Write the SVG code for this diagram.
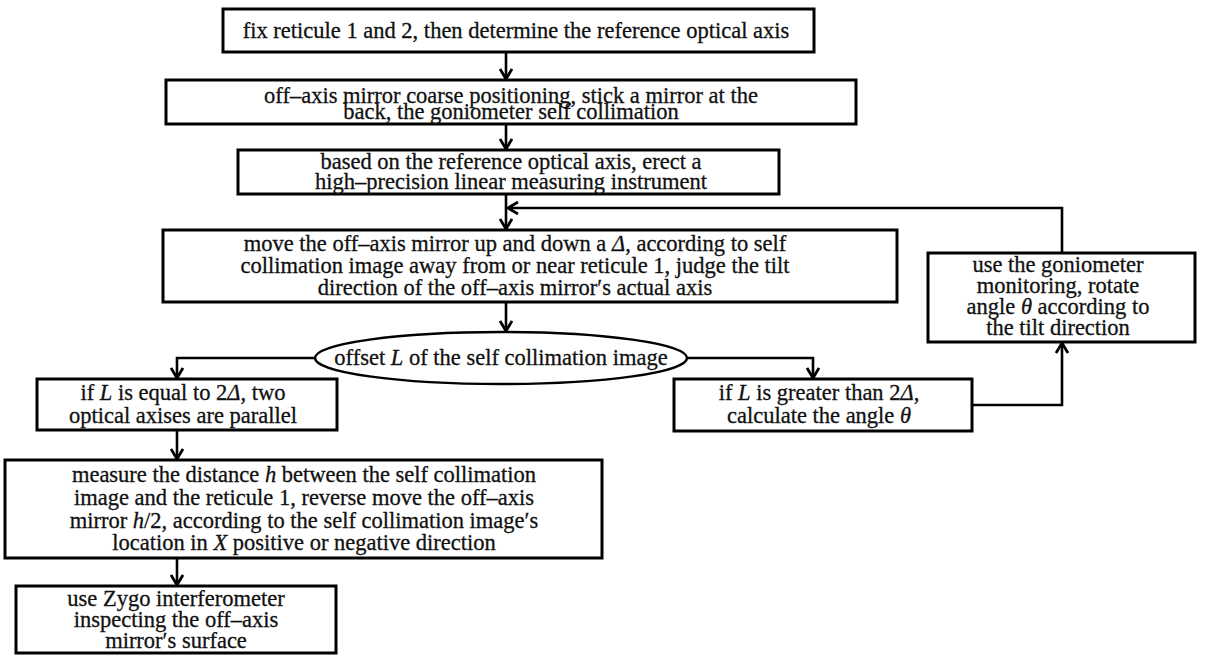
<svg xmlns="http://www.w3.org/2000/svg" width="1207" height="655" viewBox="0 0 1207 655">
<style>
.box{fill:#fff;stroke:#000;stroke-width:3}
.el{fill:#fff;stroke:#000;stroke-width:2.5}
.t{font-family:"Liberation Serif","Times New Roman",serif;font-size:22.5px;fill:#111;stroke:#111;stroke-width:0.3;text-anchor:middle}
.i{font-style:italic}
.c{fill:none;stroke:#000;stroke-width:2.6;marker-end:url(#ah)}
</style>
<defs>
<marker id="ah" viewBox="0 0 14 14" refX="12" refY="7" markerWidth="14" markerHeight="14" markerUnits="userSpaceOnUse" orient="auto">
<path d="M2,1 L12,7 L2,13" fill="none" stroke="#000" stroke-width="2.8"/>
</marker>
</defs>
<rect width="1207" height="655" fill="#fff"/>
<g id="connectors">
<path class="c" d="M506,52 V79"/>
<path class="c" d="M506,124 V149"/>
<path class="c" d="M506,194 V229"/>
<path class="c" d="M1062,253 V208 H508"/>
<path class="c" d="M506,302 V331"/>
<path class="c" d="M315,358 H177 V378"/>
<path class="c" d="M687,358 H813 V378"/>
<path class="c" d="M177,430 V459"/>
<path class="c" d="M177,558 V585"/>
<path class="c" d="M972,405 H1062 V343"/>
</g>
<g id="n1">
<rect class="box" x="223" y="9" width="591" height="43"/>
<text class="t" x="516" y="38">fix reticule 1 and 2, then determine the reference optical axis</text>
</g>
<g id="n2">
<rect class="box" x="166" y="80" width="690" height="44"/>
<text class="t" x="511" y="103">off–axis mirror coarse positioning, stick a mirror at the</text>
<text class="t" x="511" y="119">back, the goniometer self collimation</text>
</g>
<g id="n3">
<rect class="box" x="238" y="150" width="541" height="44"/>
<text class="t" x="511" y="169">based on the reference optical axis, erect a</text>
<text class="t" x="511" y="189">high–precision linear measuring instrument</text>
</g>
<g id="n4">
<rect class="box" x="163" y="230" width="734" height="72"/>
<text class="t" x="515" y="251">move the off–axis mirror up and down a <tspan class="i">Δ</tspan>, according to self</text>
<text class="t" x="515" y="273">collimation image away from or near reticule 1, judge the tilt</text>
<text class="t" x="515" y="295">direction of the off–axis mirror′s actual axis</text>
</g>
<g id="n5">
<ellipse class="el" cx="501" cy="358" rx="186" ry="26"/>
<text class="t" x="501" y="365">offset <tspan class="i">L</tspan> of the self collimation image</text>
</g>
<g id="n6">
<rect class="box" x="37" y="379" width="300" height="51"/>
<text class="t" x="183" y="400">if <tspan class="i">L</tspan> is equal to 2<tspan class="i">Δ</tspan>, two</text>
<text class="t" x="183" y="423">optical axises are parallel</text>
</g>
<g id="n7">
<rect class="box" x="5" y="460" width="597" height="98"/>
<text class="t" x="304" y="482">measure the distance <tspan class="i">h</tspan> between the self collimation</text>
<text class="t" x="304" y="505">image and the reticule 1, reverse move the off–axis</text>
<text class="t" x="304" y="528">mirror <tspan class="i">h</tspan>/2, according to the self collimation image′s</text>
<text class="t" x="304" y="550">location in <tspan class="i">X</tspan> positive or negative direction</text>
</g>
<g id="n8">
<rect class="box" x="16" y="586" width="320" height="67"/>
<text class="t" x="176" y="606">use Zygo interferometer</text>
<text class="t" x="176" y="627">inspecting the off–axis</text>
<text class="t" x="176" y="648">mirror′s surface</text>
</g>
<g id="n9">
<rect class="box" x="674" y="379" width="298" height="52"/>
<text class="t" x="819" y="400">if <tspan class="i">L</tspan> is greater than 2<tspan class="i">Δ</tspan>,</text>
<text class="t" x="819" y="423">calculate the angle <tspan class="i">θ</tspan></text>
</g>
<g id="n10">
<rect class="box" x="928" y="253" width="267" height="89"/>
<text class="t" x="1058" y="272">use the goniometer</text>
<text class="t" x="1058" y="293">monitoring, rotate</text>
<text class="t" x="1058" y="314">angle <tspan class="i">θ</tspan> according to</text>
<text class="t" x="1058" y="335">the tilt direction</text>
</g>
</svg>
